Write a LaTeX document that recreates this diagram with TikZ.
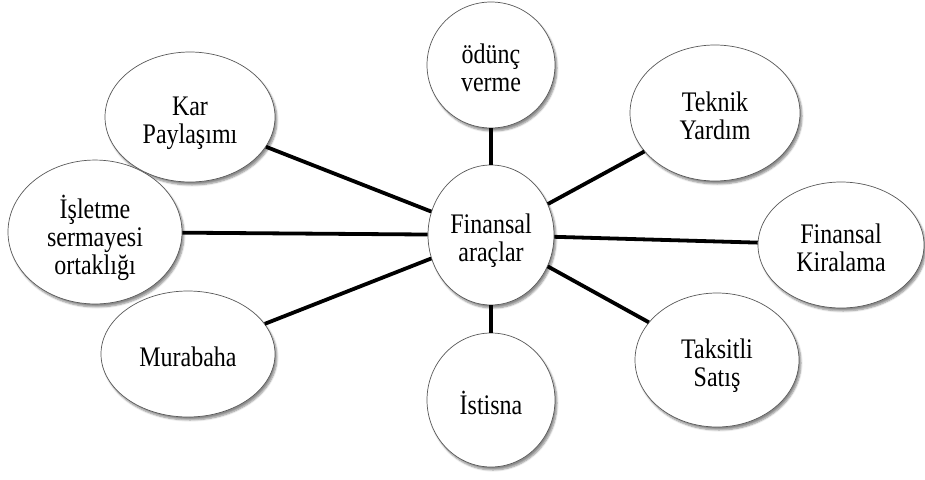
\documentclass[tikz,border=0pt]{standalone}
\usepackage{fontspec}
\usepackage{graphicx}
\setmainfont{Liberation Serif}
\usetikzlibrary{shapes.geometric,shadows.blur}
\newcommand{\bubtext}[1]{\raisebox{0pt}[\dimexpr\height+14pt\relax][\depth]{\scalebox{1}[1.18]{\begin{tabular}{@{}c@{}}#1\end{tabular}}}}
\begin{document}
\begin{tikzpicture}[x=1pt,y=-1pt,
  bub/.style={ellipse, draw=gray!70!black, line width=0.7pt, fill=white, inner sep=0pt,
    font=\fontsize{24}{23.7}\selectfont,
    blur shadow={shadow xshift=2pt, shadow yshift=-3pt, shadow blur steps=6, shadow opacity=45}},
  link/.style={line width=3.8pt, black}]
\useasboundingbox (0,0) rectangle (925,479);
\node[bub, minimum width=126pt, minimum height=140pt] (c) at (491,235) {\bubtext{Finansal\\araçlar}};
\node[bub, minimum width=128pt, minimum height=126pt] (od) at (491,65) {\bubtext{ödünç\\verme}};
\node[bub, minimum width=170pt, minimum height=130pt] (kar) at (190,117) {\bubtext{Kar\\Paylaşımı}};
\node[bub, minimum width=170pt, minimum height=136pt] (tek) at (715,113) {\bubtext{Teknik\\Yardım}};
\node[bub, minimum width=174pt, minimum height=134pt] (isl) at (95,232) {\bubtext{İşletme\\sermayesi\\ortaklığı}};
\node[bub, minimum width=166pt, minimum height=126pt] (kir) at (841,245) {\bubtext{Finansal\\Kiralama}};
\node[bub, minimum width=174pt, minimum height=126pt] (mur) at (188,354) {\bubtext{Murabaha}};
\node[bub, minimum width=128pt, minimum height=134pt] (ist) at (491,400) {\bubtext{İstisna}};
\node[bub, minimum width=164pt, minimum height=134pt] (tak) at (717,360) {\bubtext{Taksitli\\Satış}};
\foreach \n in {od,kar,tek,isl,kir,mur,ist,tak}
  \draw[link] (c) -- (\n);
\end{tikzpicture}
\end{document}
